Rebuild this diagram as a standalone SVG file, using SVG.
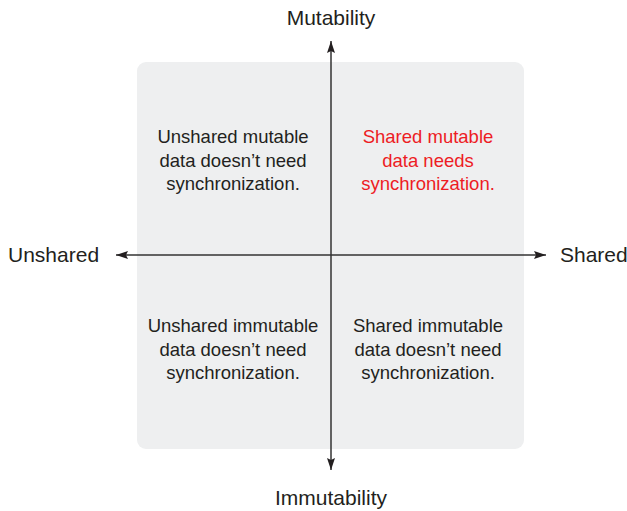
<svg xmlns="http://www.w3.org/2000/svg" width="627" height="511" viewBox="0 0 627 511">
  <style>
    .axis { stroke: #333333; stroke-width: 1.5; fill: none; }
    .label { font-family: "Liberation Sans", Arial, sans-serif; font-size: 21px; fill: #231f20; }
    .quad { font-family: "Liberation Sans", Arial, sans-serif; font-size: 18.5px; fill: #231f20; text-anchor: middle; }
    .hot { fill: #ed1c24; }
  </style>
  <defs>
    <marker id="arrow" viewBox="0 0 12 8" refX="12" refY="4" markerWidth="12" markerHeight="8" markerUnits="userSpaceOnUse" orient="auto">
      <path d="M0,0 L12,4 L0,8 L2,4 Z" fill="#231f20"/>
    </marker>
  </defs>

  <rect x="137" y="62" width="387" height="387" rx="9" fill="#eeeff0"/>

  <g id="connectors">
    <line class="axis" x1="331" y1="255" x2="116" y2="255" marker-end="url(#arrow)"/>
    <line class="axis" x1="331" y1="255" x2="546" y2="255" marker-end="url(#arrow)"/>
    <line class="axis" x1="331" y1="255" x2="331" y2="41" marker-end="url(#arrow)"/>
    <line class="axis" x1="331" y1="255" x2="331" y2="470" marker-end="url(#arrow)"/>
  </g>

  <g id="mutability"><text class="label" x="331" y="25" text-anchor="middle">Mutability</text></g>
  <g id="immutability"><text class="label" x="331" y="505" text-anchor="middle">Immutability</text></g>
  <g id="unshared"><text class="label" x="8" y="262">Unshared</text></g>
  <g id="shared"><text class="label" x="560" y="262">Shared</text></g>

  <g id="unshared-mutable">
    <text class="quad" x="233" y="143">Unshared mutable</text>
    <text class="quad" x="233" y="167">data doesn’t need</text>
    <text class="quad" x="233" y="190">synchronization.</text>
  </g>
  <g id="shared-mutable">
    <text class="quad hot" x="428" y="143">Shared mutable</text>
    <text class="quad hot" x="428" y="167">data needs</text>
    <text class="quad hot" x="428" y="190">synchronization.</text>
  </g>
  <g id="unshared-immutable">
    <text class="quad" x="233" y="332">Unshared immutable</text>
    <text class="quad" x="233" y="356">data doesn’t need</text>
    <text class="quad" x="233" y="379">synchronization.</text>
  </g>
  <g id="shared-immutable">
    <text class="quad" x="428" y="332">Shared immutable</text>
    <text class="quad" x="428" y="356">data doesn’t need</text>
    <text class="quad" x="428" y="379">synchronization.</text>
  </g>
</svg>
